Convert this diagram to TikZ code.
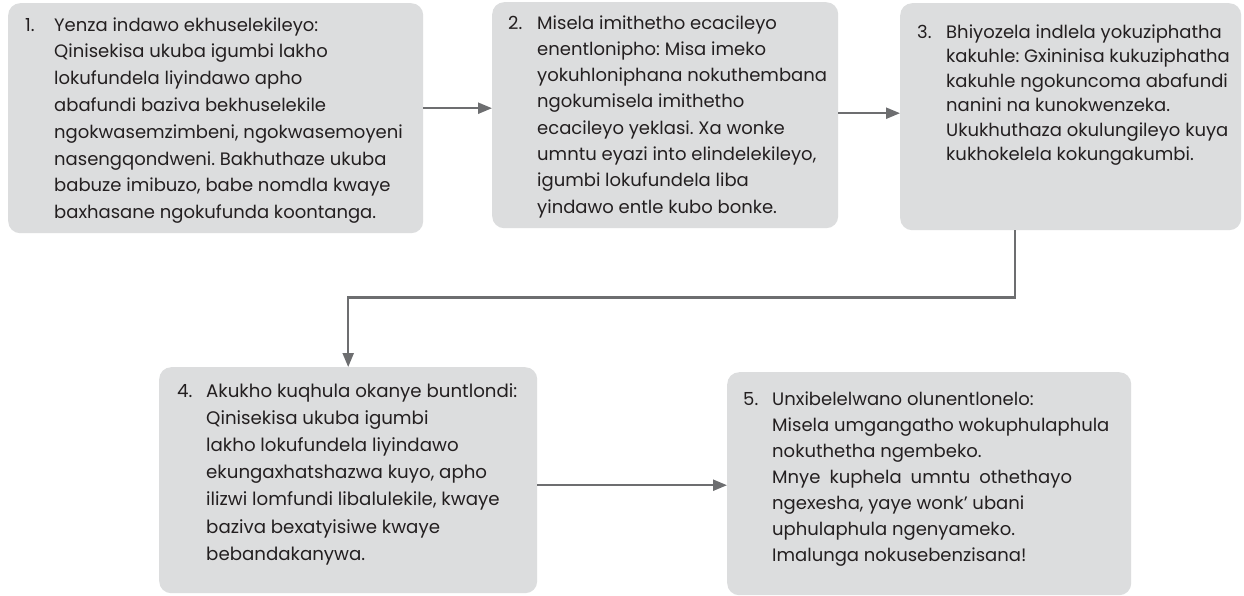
\documentclass[tikz,border=0pt]{standalone}
\usepackage{fontspec}
\setmainfont{Poppins}
\usetikzlibrary{arrows.meta}
\definecolor{boxgray}{HTML}{DCDDDE}
\definecolor{arrgray}{HTML}{6D6E70}
\definecolor{txtgray}{HTML}{231F20}
\frenchspacing
\newcommand\stepitem[4]{{\fontsize{#1}{#2}\selectfont\makebox[29pt][l]{#3}\vtop{\hsize=420pt\parindent=0pt\raggedright\leavevmode #4\par}}}
\tikzset{
  stepbox/.style={fill=boxgray, rounded corners=12pt, draw=none, inner sep=0pt, anchor=north west},
  steptxt/.style={anchor=base west, inner sep=0pt, text=txtgray},
  conn/.style={draw=arrgray, line width=2.2pt, -{Triangle[length=14pt,width=11pt]}}
}
\begin{document}
\begin{tikzpicture}[x=1pt,y=-1pt]
\useasboundingbox[fill=white] (0,0) rectangle (1244,595);
\node[stepbox, minimum width=415pt, minimum height=230pt] (b1) at (8,3) {};
\node[stepbox, minimum width=346pt, minimum height=226pt] (b2) at (492,2) {};
\node[stepbox, minimum width=341pt, minimum height=227pt] (b3) at (900,3) {};
\node[stepbox, minimum width=378pt, minimum height=226pt] (b4) at (159,367) {};
\node[stepbox, minimum width=404pt, minimum height=223pt] (b5) at (727,372) {};

\node[steptxt] (t1) at (25,31) {\stepitem{18}{26.8pt}{1.}{Yenza indawo ekhuselekileyo:\\
Qinisekisa ukuba igumbi lakho\\
lokufundela liyindawo apho\\
abafundi baziva bekhuselekile\\
ngokwasemzimbeni, ngokwasemoyeni\\
nasengqondweni. Bakhuthaze ukuba\\
babuze imibuzo, babe nomdla kwaye\\
baxhasane ngokufunda koontanga.}};

\node[steptxt] (t2) at (508,29) {\stepitem{18}{26.3pt}{2.}{Misela imithetho ecacileyo\\
enentlonipho: Misa imeko\\
yokuhloniphana nokuthembana\\
ngokumisela imithetho\\
ecacileyo yeklasi. Xa wonke\\
umntu eyazi into elindelekileyo,\\
igumbi lokufundela liba\\
yindawo entle kubo bonke.}};

\node[steptxt] (t3) at (917,38) {\stepitem{18}{24.5pt}{3.}{Bhiyozela indlela yokuziphatha\\
kakuhle: Gxininisa kukuziphatha\\
kakuhle ngokuncoma abafundi\\
nanini na kunokwenzeka.\\
Ukukhuthaza okulungileyo kuya\\
kukhokelela kokungakumbi.}};

\node[steptxt] (t4) at (177,397) {\stepitem{18.2}{27.2pt}{4.}{Akukho kuqhula okanye buntlondi:\\
Qinisekisa ukuba igumbi\\
lakho lokufundela liyindawo\\
ekungaxhatshazwa kuyo, apho\\
ilizwi lomfundi libalulekile, kwaye\\
baziva bexatyisiwe kwaye\\
bebandakanywa.}};

\node[steptxt] (t5) at (743,405) {\stepitem{18}{26pt}{5.}{Unxibelelwano olunentlonelo:\\
Misela umgangatho wokuphulaphula\\
nokuthetha ngembeko.\\
Mnye\hspace{0.5em}kuphela\hspace{0.5em}umntu\hspace{0.5em}othethayo\\
ngexesha, yaye wonk’ ubani\\
uphulaphula ngenyameko.\\
Imalunga nokusebenzisana!}};

\draw[conn] ([yshift=10pt]b1.east) coordinate (a12) -- (a12 -| b2.west);
\draw[conn] ([yshift=2pt]b2.east) coordinate (a23) -- (a23 -| b3.west);
\draw[conn] ([xshift=-56pt]b3.south) -- ++(0,67) -| (b4.north);
\draw[conn] ([yshift=-5pt]b4.east) coordinate (a45) -- (a45 -| b5.west);
\end{tikzpicture}
\end{document}
